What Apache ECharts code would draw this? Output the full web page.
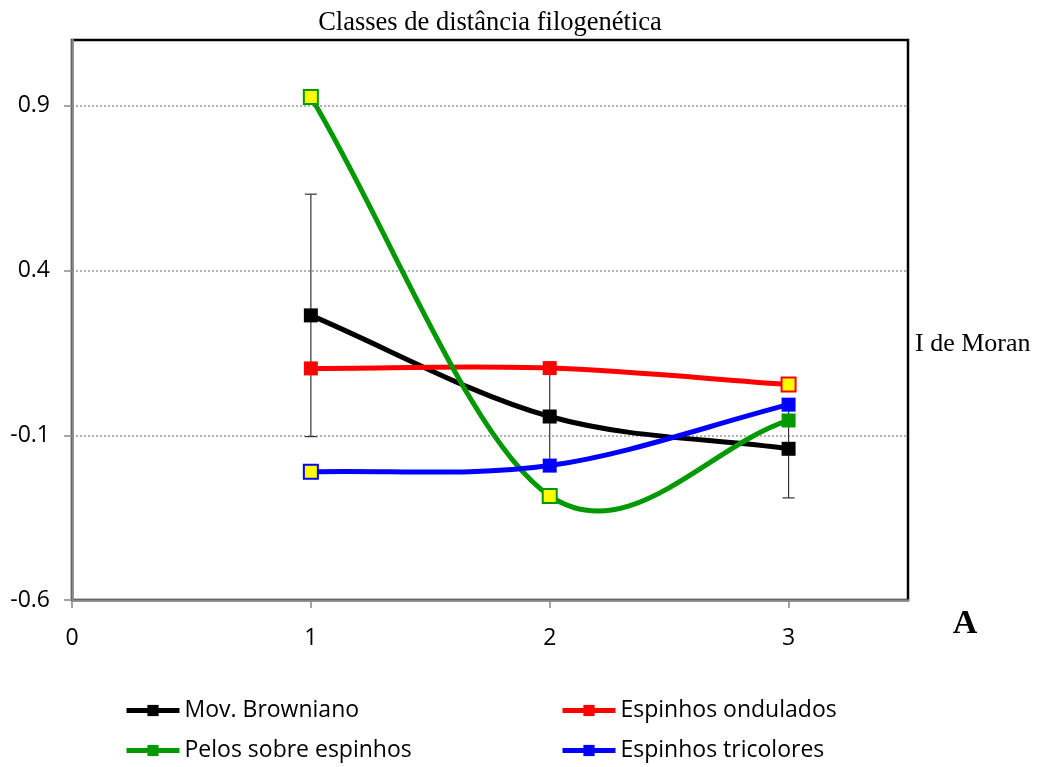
<!DOCTYPE html>
<html><head><meta charset="utf-8">
<script src="https://cdn.jsdelivr.net/npm/echarts@6/dist/echarts.min.js"></script>
<style>html,body{margin:0;padding:0;background:#fff}#c{width:1037px;height:767px}</style>
</head><body><div id="c"></div>
<script>
const xValues = [1, 2, 3];
const seriesNames = ['Mov. Browniano', 'Espinhos ondulados', 'Pelos sobre espinhos', 'Espinhos tricolores'];
const browniano = [0.264, -0.043, -0.141];
const brownianoErr = [0.368, 0.145, 0.149];
const ondulados = [0.103, 0.104, 0.054];
const pelos = [0.927, -0.284, -0.055];
const tricolores = [-0.211, -0.192, -0.007];
const yTicks = [-0.6, -0.1, 0.4, 0.9];
const xTicks = [0, 1, 2, 3];
// which points are drawn with a yellow-filled marker
const yellowPoints = {
  'Mov. Browniano': [],
  'Espinhos ondulados': [3],
  'Pelos sobre espinhos': [1, 2],
  'Espinhos tricolores': [1]
};
const colors = ['#000000', '#ff0000', '#009900', '#0000ff'];
const values = [browniano, ondulados, pelos, tricolores];

const chart = echarts.init(document.getElementById('c'));
const sans = 'Open Sans';
const serif = 'Liberation Serif';

// smooth curve (Excel-like Catmull-Rom) through data points, placed via the axes
function curveSeries(i) {
  return {
    type: 'custom', z: 3 + i, silent: true,
    data: [[i]],
    renderItem: function (params, api) {
      const pts = xValues.map((x, k) => api.coord([x, values[i][k]]));
      const n = pts.length;
      const tan = pts.map((p, k) => {
        const a = pts[Math.max(0, k - 1)], b = pts[Math.min(n - 1, k + 1)];
        const f = (k === 0 || k === n - 1) ? 1 : 0.5;
        return [(b[0] - a[0]) * f, (b[1] - a[1]) * f];
      });
      const children = [];
      for (let k = 0; k < n - 1; k++) {
        const p = pts[k], q = pts[k + 1];
        children.push({
          type: 'bezierCurve',
          shape: { x1: p[0], y1: p[1], x2: q[0], y2: q[1],
            cpx1: p[0] + tan[k][0] / 3, cpy1: p[1] + tan[k][1] / 3,
            cpx2: q[0] - tan[k + 1][0] / 3, cpy2: q[1] - tan[k + 1][1] / 3 },
          style: { stroke: colors[i], lineWidth: 5, fill: null, lineCap: 'round' }
        });
      }
      return { type: 'group', children: children };
    }
  };
}

function markerSeries(i) {
  const name = seriesNames[i];
  return {
    name: name, type: 'line', z: 10 + i,
    symbol: 'rect', symbolSize: 14, showSymbol: true,
    lineStyle: { color: colors[i], width: 5, opacity: 0 },
    itemStyle: { color: colors[i], borderColor: colors[i], borderWidth: 0 },
    data: xValues.map((x, k) => {
      const d = { value: [x, values[i][k]] };
      if (yellowPoints[name].includes(x)) {
        d.itemStyle = { color: '#ffff00', borderColor: colors[i], borderWidth: 2 };
      }
      return d;
    })
  };
}

const errSeries = {
  type: 'custom', z: 2, silent: true,
  data: xValues.map((x, k) => [x, browniano[k] - brownianoErr[k], browniano[k] + brownianoErr[k]]),
  renderItem: function (params, api) {
    const lo = api.coord([api.value(0), api.value(1)]);
    const hi = api.coord([api.value(0), api.value(2)]);
    const w = 6;
    const st = { stroke: '#333', lineWidth: 1.2 };
    return { type: 'group', children: [
      { type: 'line', shape: { x1: lo[0], y1: lo[1], x2: hi[0], y2: hi[1] }, style: st },
      { type: 'line', shape: { x1: lo[0] - w, y1: lo[1], x2: lo[0] + w, y2: lo[1] }, style: st },
      { type: 'line', shape: { x1: hi[0] - w, y1: hi[1], x2: hi[0] + w, y2: hi[1] }, style: st }
    ]};
  }
};

const legendText = { fontFamily: sans, fontSize: 23, color: '#000' };
const legendLine = { width: 5, opacity: 1 };
function legendData(idx) {
  return idx.map(i => ({ name: seriesNames[i], lineStyle: { color: colors[i], width: 5, opacity: 1 },
    itemStyle: { color: colors[i], borderWidth: 0 } }));
}
chart.setOption({
  animation: false,
  grid: { left: 72, right: 129, top: 40, bottom: 167, containLabel: false,
    show: true, borderColor: '#000', borderWidth: 2.5, backgroundColor: 'transparent' },
  title: [
    { text: 'Classes de distância filogenética', left: 490, top: 10, textAlign: 'center', padding: 0,
      textStyle: { fontFamily: serif, fontSize: 26.5, fontWeight: 'normal', color: '#000' } },
    { text: 'I de Moran', left: 915, top: 331, padding: 0,
      textStyle: { fontFamily: serif, fontSize: 26, fontWeight: 'normal', color: '#000' } },
    { text: 'A', left: 965, top: 607, textAlign: 'center', padding: 0,
      textStyle: { fontFamily: serif, fontSize: 34, fontWeight: 'bold', color: '#000' } }
  ],
  legend: [
    { data: legendData([0, 2]), orient: 'vertical', left: 124, top: 699, padding: 0,
      itemWidth: 53, itemHeight: 14, itemGap: 17, textStyle: legendText, lineStyle: legendLine },
    { data: legendData([1, 3]), orient: 'vertical', left: 560, top: 699, padding: 0,
      itemWidth: 53, itemHeight: 14, itemGap: 17, textStyle: legendText, lineStyle: legendLine }
  ],
  xAxis: [
    { type: 'value', min: 0, max: 3.5, interval: 1, position: 'bottom', z: 2,
      axisLine: { show: true, onZero: false, lineStyle: { color: '#888', width: 2.5 } },
      axisTick: { show: true, length: 8, lineStyle: { color: '#888', width: 1.5 } },
      axisLabel: { margin: 27, fontFamily: sans, fontSize: 23, color: '#000', showMaxLabel: false,
        formatter: v => (xTicks.includes(v) ? String(v) : '') },
      splitLine: { show: false } }
  ],
  yAxis: [
    { type: 'value', min: -0.6, max: 1.1, interval: 0.5, position: 'left', z: 2,
      axisLine: { show: true, onZero: false, lineStyle: { color: '#888', width: 2.5 } },
      axisTick: { show: true, length: 8, lineStyle: { color: '#888', width: 1.5 } },
      axisLabel: { margin: 22, fontFamily: sans, fontSize: 23, color: '#000', showMaxLabel: false,
        formatter: v => { const t = yTicks.find(a => Math.abs(a - v) < 1e-6); return t === undefined ? '' : t.toFixed(1); } },
      splitLine: { show: true, showMaxLine: false, showMinLine: false, lineStyle: { color: '#999', type: [2, 2], width: 1.5 } } }
  ],
  series: [errSeries, curveSeries(0), curveSeries(1), curveSeries(2), curveSeries(3),
    markerSeries(0), markerSeries(1), markerSeries(2), markerSeries(3)]
});
</script></body></html>
